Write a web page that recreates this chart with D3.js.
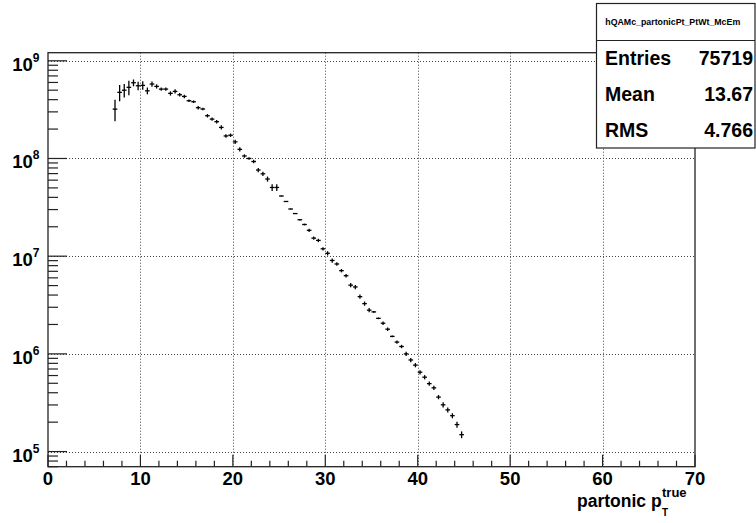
<!DOCTYPE html>
<html><head><meta charset="utf-8">
<script src="https://cdn.jsdelivr.net/npm/d3@7"></script>
<style>html,body{margin:0;padding:0;background:#fff;}svg{display:block;}</style>
</head><body>
<svg id="c" width="756" height="523"></svg>
<script>
const histTitle = "hQAMc_partonicPt_PtWt_McEm";
const statNames = ["Entries", "Mean", "RMS"];
const statValues = ["75719", "13.67", "4.766"];
const binCenters = [7.25,7.75,8.25,8.75,9.25,9.75,10.25,10.75,11.25,11.75,12.25,12.75,13.25,13.75,14.25,14.75,15.25,15.75,16.25,16.75,17.25,17.75,18.25,18.75,19.25,19.75,20.25,20.75,21.25,21.75,22.25,22.75,23.25,23.75,24.25,24.75,25.25,25.75,26.25,26.75,27.25,27.75,28.25,28.75,29.25,29.75,30.25,30.75,31.25,31.75,32.25,32.75,33.25,33.75,34.25,34.75,35.25,35.75,36.25,36.75,37.25,37.75,38.25,38.75,39.25,39.75,40.25,40.75,41.25,41.75,42.25,42.75,43.25,43.75,44.25,44.75];
const binHalfWidth = 0.25;
const counts = [3.2e8,4.75e8,5.0e8,5.35e8,5.96e8,5.55e8,5.6e8,4.93e8,5.78e8,5.47e8,5.13e8,5.13e8,4.64e8,4.86e8,4.49e8,4.32e8,3.90e8,3.81e8,3.31e8,3.21e8,2.74e8,2.53e8,2.38e8,2.08e8,1.70e8,1.73e8,1.48e8,1.24e8,1.06e8,1.00e8,9.31e7,7.62e7,6.97e7,6.16e7,5.05e7,5.05e7,4.13e7,3.63e7,3.04e7,2.73e7,2.36e7,2.11e7,1.84e7,1.53e7,1.45e7,1.19e7,1.07e7,9.04e6,8.32e6,7.11e6,6.31e6,5.05e6,4.84e6,3.85e6,3.27e6,2.80e6,2.69e6,2.31e6,2.06e6,1.79e6,1.51e6,1.32e6,1.19e6,1.00e6,8.66e5,7.67e5,6.49e5,5.77e5,4.96e5,4.49e5,3.61e5,3.01e5,2.67e5,2.33e5,1.89e5,1.49e5];
const relErr = [0.25,0.19,0.16,0.17,0.08,0.10,0.10,0.08,0.06,0.05,0.04,0.04,0.05,0.05,0.04,0.04,0.03,0.03,0.04,0.03,0.04,0.04,0.04,0.05,0.04,0.04,0.05,0.05,0.04,0.03,0.04,0.05,0.05,0.06,0.08,0.08,0.01,0.01,0.01,0.01,0.02,0.02,0.04,0.04,0.04,0.04,0.05,0.05,0.04,0.04,0.04,0.05,0.05,0.05,0.05,0.05,0.02,0.02,0.04,0.04,0.02,0.04,0.04,0.05,0.05,0.05,0.05,0.05,0.05,0.05,0.05,0.06,0.06,0.06,0.07,0.08];
const xMajorTicks = [0,10,20,30,40,50,60,70];
const xMinorTicks = [2,4,6,8,12,14,16,18,22,24,26,28,32,34,36,38,42,44,46,48,52,54,56,58,62,64,66,68];
const yDecades = [1e5,1e6,1e7,1e8,1e9];
const yDecadeExp = ["5","6","7","8","9"];
const xDomain = [0, 70];
const yDomain = [7e4, 1.21e9];

const svg = d3.select("#c");
const font = "'Liberation Sans', Arial, Helvetica, sans-serif";
const L = 48, R = 695, T = 52.7, B = 466.7;
const x = d3.scaleLinear().domain(xDomain).range([L, R]);
const y = d3.scaleLog().domain(yDomain).range([B, T]);

svg.append("rect").attr("width",756).attr("height",523).attr("fill","#fff");

// grid
const grid = svg.append("g").attr("stroke","#444").attr("stroke-width",1).attr("stroke-dasharray","1,2");
grid.selectAll("line.gx").data(xMajorTicks.filter(d=>d>xDomain[0]&&d<xDomain[1])).join("line")
  .attr("x1",d=>Math.round(x(d))+0.5).attr("x2",d=>Math.round(x(d))+0.5).attr("y1",T).attr("y2",B);
grid.selectAll("line.gy").data(yDecades).join("line")
  .attr("y1",d=>Math.round(y(d))+0.5).attr("y2",d=>Math.round(y(d))+0.5).attr("x1",L).attr("x2",R);

// y minor ticks
const yMinor = [];
[1e4,1e5,1e6,1e7,1e8,1e9].forEach(dec=>{ for(let k=2;k<=9;k++){ const v=dec*k; if(v>=yDomain[0]&&v<=yDomain[1]) yMinor.push(v);} });
const ticks = svg.append("g").attr("stroke","#222").attr("stroke-width",1.2);
ticks.selectAll("line.ymin").data(yMinor).join("line")
  .attr("x1",L).attr("x2",L+10).attr("y1",d=>y(d)).attr("y2",d=>y(d));
ticks.selectAll("line.ymaj").data(yDecades).join("line")
  .attr("x1",L).attr("x2",L+19).attr("y1",d=>y(d)).attr("y2",d=>y(d));
ticks.selectAll("line.xmin").data(xMinorTicks).join("line")
  .attr("x1",d=>x(d)).attr("x2",d=>x(d)).attr("y1",B).attr("y2",B-6);
ticks.selectAll("line.xmaj").data(xMajorTicks).join("line")
  .attr("x1",d=>x(d)).attr("x2",d=>x(d)).attr("y1",B).attr("y2",B-12);

// frame
svg.append("rect").attr("x",L).attr("y",T).attr("width",R-L).attr("height",B-T)
  .attr("fill","none").attr("stroke","#222").attr("stroke-width",1.3);

// data
const pts = binCenters.map((c,i)=>({c, v:counts[i], e:counts[i]*relErr[i]}));
const dg = svg.append("g").attr("stroke","#000").attr("stroke-width",1.3);
dg.selectAll("line.h").data(pts).join("line")
  .attr("x1",d=>x(d.c-binHalfWidth)).attr("x2",d=>x(d.c+binHalfWidth))
  .attr("y1",d=>y(d.v)).attr("y2",d=>y(d.v));
dg.selectAll("line.v").data(pts).join("line")
  .attr("x1",d=>x(d.c)).attr("x2",d=>x(d.c))
  .attr("y1",d=>y(d.v+d.e)).attr("y2",d=>y(Math.max(d.v-d.e, yDomain[0])));

// x tick labels
svg.append("g").selectAll("text").data(xMajorTicks).join("text")
  .attr("x",d=>x(d)).attr("y",485).attr("text-anchor","middle")
  .attr("font-family",font).attr("font-weight","bold").attr("font-size",18.5).attr("fill","#000")
  .text(d=>d);

// y tick labels
const yl = svg.append("g");
yDecades.forEach((d,i)=>{
  const t = yl.append("text").attr("x",39.5).attr("y",y(d)+10).attr("text-anchor","end")
    .attr("font-family",font).attr("font-weight","bold").attr("font-size",18.5).attr("fill","#000");
  t.append("tspan").text("10");
  t.append("tspan").attr("font-size",12).attr("dy",-9).text(yDecadeExp[i]);
});

// x title
const xt = svg.append("text").attr("x",577).attr("y",507)
  .attr("font-family",font).attr("font-weight","bold").attr("font-size",17.5).attr("fill","#000");
xt.append("tspan").text("partonic p");
svg.append("text").attr("x",662).attr("y",516).attr("font-family",font).attr("font-weight","bold")
  .attr("font-size",10).attr("fill","#000").text("T");
svg.append("text").attr("x",662).attr("y",497).attr("font-family",font).attr("font-weight","bold")
  .attr("font-size",13).attr("fill","#000").text("true");

// stats box
const bx = 596.5, by = 3.5, bw = 158.5, bh = 144.5, titleH = 37;
svg.append("rect").attr("x",bx).attr("y",by).attr("width",bw).attr("height",bh)
  .attr("fill","#fff").attr("stroke","#222").attr("stroke-width",1.2);
svg.append("line").attr("x1",bx).attr("x2",bx+bw).attr("y1",by+titleH).attr("y2",by+titleH)
  .attr("stroke","#222").attr("stroke-width",1.2);
svg.append("text").attr("x",bx+bw/2-3).attr("y",25).attr("text-anchor","middle")
  .attr("font-family",font).attr("font-weight","bold").attr("font-size",8.8).attr("fill","#000").text(histTitle);
statNames.forEach((n,i)=>{
  const yy = 65 + i*36;
  svg.append("text").attr("x",605).attr("y",yy).attr("font-family",font).attr("font-weight","bold")
    .attr("font-size",19.5).attr("fill","#000").text(n);
  svg.append("text").attr("x",753).attr("y",yy).attr("text-anchor","end").attr("font-family",font).attr("font-weight","bold")
    .attr("font-size",19.5).attr("fill","#000").text(statValues[i]);
});
</script>
</body></html>
